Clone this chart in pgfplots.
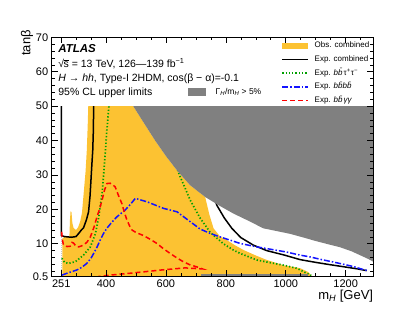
\documentclass[border=0pt]{standalone}
\usepackage{pgfplots}
\pgfplotsset{compat=1.18}
\usepackage{fontspec}
\setmainfont{Liberation Sans}
\definecolor{obsyellow}{RGB}{252,194,50}
\definecolor{widthgrey}{RGB}{128,128,128}
\definecolor{expgreen}{RGB}{0,160,0}
\definecolor{expblue}{RGB}{20,20,255}
\definecolor{expred}{RGB}{255,0,0}
\pgfplotsset{
  mylegline/.style={legend image code/.code={\draw[##1] (0pt,0pt) -- (25.6pt,0pt);}},
  mylegarea/.style={legend image code/.code={\fill[obsyellow] (0pt,-3pt) rectangle (25.6pt,3pt);}},
}
\begin{document}
\begin{tikzpicture}
\path[use as bounding box] (-51.7pt,-35.5pt) rectangle (363.3pt,276.5pt);
\begin{axis}[
  at={(0pt,0pt)}, anchor=south west,
  width=321.6pt, height=239.2pt, scale only axis,
  xmin=219, xmax=1292, ymin=0.5, ymax=70,
  xtick={251,400,600,800,1000,1200},
  xticklabels={251,400,600,800,1000,1200},
  minor xtick={300,350,450,500,550,650,700,750,850,900,950,1050,1100,1150,1250},
  ytick={0.5,10,20,30,40,50,60,70},
  yticklabels={0.5,10,20,30,40,50,60,70},
  minor ytick={2,4,...,70},
  tick align=inside, tick pos=both,
  major tick length=6pt, minor tick length=3pt,
  ticklabel style={font=\fontsize{11}{13}\selectfont},
  /pgf/number format/assume math mode=true,
  axis line style={line width=0.8pt},
  every tick/.style={black, line width=0.6pt},
  axis on top,
  xlabel={m\textsubscript{\textit{H}} [GeV]},
  ylabel={tanβ},
  xlabel style={at={(axis description cs:1,-0.055)}, anchor=north east, inner sep=0pt, font=\fontsize{13}{15}\selectfont},
  ylabel style={at={(axis description cs:-0.077,1.031)}, anchor=east, inner sep=0pt, font=\fontsize{13}{15}\selectfont},
  legend style={draw=none, fill=none, font=\fontsize{8}{9}\selectfont,
    at={(axis description cs:0.988,0.983)}, anchor=north east, inner sep=0pt,
    row sep=5.75pt, column sep=6pt,
    nodes={inner sep=0pt, text height=6pt, text depth=2pt}},
  legend cell align=left,
]
% kinematic threshold line
\addplot[gray!45, densely dotted, line width=1pt, forget plot] coordinates {(251,0.5) (251,50)};
% observed excluded region
\addplot[fill=obsyellow, draw=none, mylegarea] coordinates {
 (255,0.5) (255,11.6) (262,12.0) (278,11.9) (280,17) (282,19.5) (285,19.2) (288,16)
 (292,14.6) (300,14.0) (307,14.8) (314,16.5) (320,19) (324,23) (328,27) (332,31)
 (336,37) (339,44) (341,50) (491,50) (520,46) (564,40) (600,35.5) (640,31) (681,27)
 (731,23.6) (745,18.5) (759,14.5) (780,12.2) (803,11.1) (830,9.6) (859,8.2) (900,6.6)
 (937,5.3) (992,3.8) (1048,2.9) (1075,1.8) (1088,0.5)
};
\addlegendentry{Obs. combined}
% expected combined
\addplot[black, line width=1.5pt, mylegline] coordinates {
 (251,50) (251,12.4) (262,12.1) (285,11.9) (300,12.1) (309,13) (318,14) (325,14.6)
 (335,17) (342,19.3) (347,24) (350,28.5) (353,33) (356,37.2) (358,43) (359,50)
};
\addlegendentry{Exp. combined}
\addplot[black, line width=1.5pt, forget plot] coordinates {
 (745,28) (770,21.2) (795,17.5) (820,14.5) (850,11.8) (892,9.6) (937,8.0) (992,6.8)
 (1048,5.4) (1100,4.6) (1150,3.9) (1203,3.2) (1240,2.7) (1270,2.2)
};
% bbtautau
\addplot[expgreen, line width=1.7pt, dash pattern=on 1.3pt off 2pt, mylegline] coordinates {
 (253,5.8) (262,4.6) (275,4.3) (298,4.8) (325,6.7) (348,9.1) (365,13) (376,17.8)
 (387,24.6) (393,31) (398,37) (403,43) (410,50)
};
\addlegendentry{Exp. \textit{b\={b}}τ\textsuperscript{+}τ\textsuperscript{−}}
\addplot[expgreen, line width=1.7pt, dash pattern=on 1.3pt off 2pt, forget plot] coordinates {
 (620,36) (648,29.4) (665,26) (681,22.7) (714,17.5) (748,13.3) (792,10) (825,8.2)
 (848,7.2) (903,5.3) (937,4.7) (992,3.8) (1036,2.9) (1069,1.5) (1085,0.8)
};
% bbbb
\addplot[expblue, line width=1.5pt, dash pattern=on 6pt off 2pt on 1.5pt off 2pt, mylegline] coordinates {
 (253,0.9) (275,1.6) (303,2.4) (320,3.2) (336,4.3) (350,5.8) (359,7.2) (370,9)
 (381,11.1) (392,13) (403,14.5) (420,16.3) (436,17.8) (464,19.8) (482,21.5) (498,23.2)
 (537,22.2) (592,20.3) (637,19.3) (680,16.5) (714,14.3) (748,13) (781,12) (848,10.1)
 (903,9.1) (937,8.6) (1003,7.6) (1048,6.7) (1081,6.2) (1120,5.4) (1159,4.7) (1200,3.9)
 (1225,3.4) (1259,2.5) (1275,2.2)
};
\addlegendentry{Exp. \textit{b\={b}b\={b}}}
% bbyy
\addplot[expred, line width=1.5pt, dash pattern=on 5pt off 3pt, mylegline] coordinates {
 (252,13.5) (255,11) (258,9.8) (270,9.2) (281,9.3) (287,10.4) (292,10.2) (300,9.3)
 (309,9.1) (325,9.6) (337,10.5) (348,12) (360,14.8) (370,17.8) (380,20.5) (387,22.7)
 (395,25.5) (403,27.5) (414,27.6) (425,27) (431,26.5) (442,24) (453,21.7) (462,19)
 (470,16.9) (480,15) (487,14) (500,13.3) (525,12.4) (550,11.2) (570,10.1) (590,8.7)
 (614,7.2) (635,6) (658,4.8) (680,3.9) (703,3.3) (722,2.7) (664,3.0) (586,2.4)
 (520,1.8) (475,1.4) (420,0.95) (375,0.5)
};
\addlegendentry{Exp. \textit{b\={b}}\textit{γγ}}
% width > 5% region
\addplot[fill=widthgrey, draw=none, forget plot] coordinates {
 (491,50) (520,46) (564,40) (600,35.5) (640,31) (681,27) (731,23.6) (780,21)
 (825,18.8) (875,16.7) (925,14.5) (975,13.6) (1014,12.9) (1060,11.8) (1100,10.8)
 (1140,9.9) (1181,9.0) (1220,7.8) (1250,6.6) (1275,5.6) (1292,4.8) (1292,50)
};
\addplot[fill=widthgrey, draw=none, forget plot] coordinates {
 (716,0.5) (716,1.1) (1075,1.1) (1075,0.5)
};
\node[anchor=north west, inner sep=0pt, align=left, font=\fontsize{10.5}{14.2}\selectfont]
  at (rel axis cs:0.02,0.97)
  {{\fontsize{11.5}{14.2}\selectfont\bfseries\itshape ATLAS}\\[0.3pt]
   √\kern-0.4pt\rlap{\rule[7.2pt]{5.3pt}{0.45pt}}s = 13 TeV, 126—139 fb\textsuperscript{−1}\\
   \textit{H} → \textit{hh}, Type-I 2HDM, cos(β − α)=-0.1\\
   95\% CL upper limits};
\end{axis}
\begin{axis}[
  at={(0pt,0pt)}, anchor=south west,
  width=321.6pt, height=239.2pt, scale only axis, hide axis,
  xmin=0, xmax=1, ymin=0, ymax=1,
  legend style={draw=none, fill=none, font=\fontsize{8.5}{10}\selectfont,
    at={(axis description cs:0.4238,0.7713)}, anchor=west, inner sep=0pt,
    column sep=10pt, nodes={inner sep=0pt}},
]
\addlegendimage{legend image code/.code={\fill[widthgrey] (0pt,-3.5pt) rectangle (17pt,3.5pt);}}
\addlegendentry{Γ\textsubscript{\textit{H}}/m\textsubscript{\textit{H}} > 5\%}
\end{axis}
\end{tikzpicture}
\end{document}
